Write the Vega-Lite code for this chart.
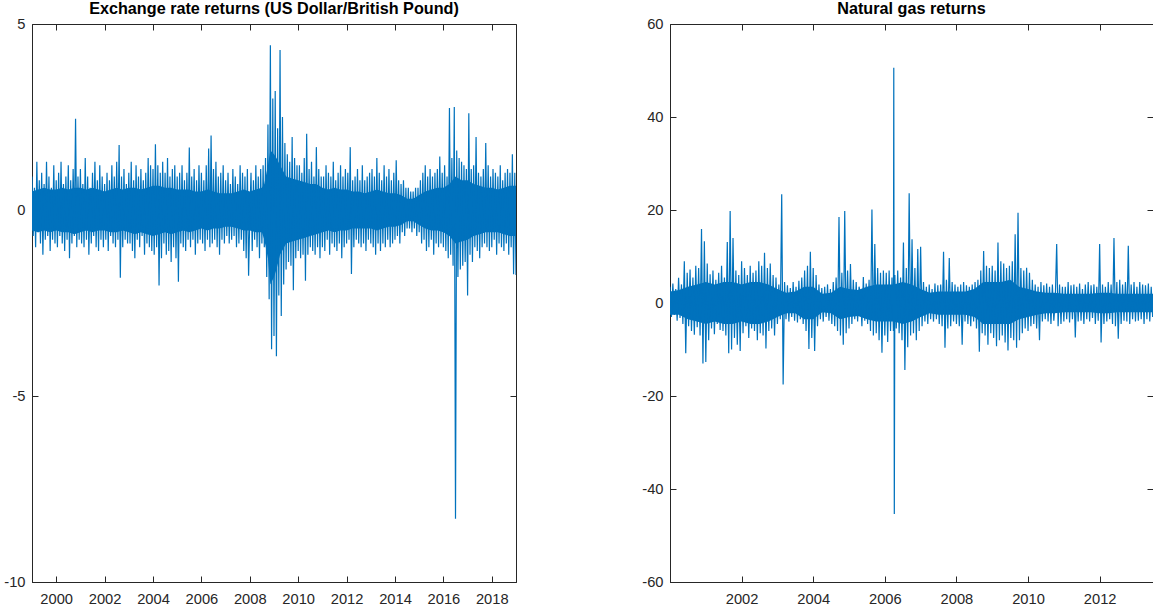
{
"$schema": "https://vega.github.io/schema/vega-lite/v6.json",
"background": "white",
"padding": {"left": 3, "right": 1, "top": 0, "bottom": 0},
"config": {
  "view": {"stroke": "#262626", "strokeWidth": 1},
  "font": "Liberation Sans",
  "axis": {"domainColor": "#262626", "tickColor": "#262626", "labelColor": "#262626", "labelFont": "Liberation Sans", "labelFontSize": 14.7, "grid": false, "tickSize": -6, "title": null, "domainWidth": 1, "tickWidth": 1},
  "axisX": {"labelPadding": 15.5},
  "axisY": {"labelPadding": 13},
  "title": {"font": "Liberation Sans", "fontSize": 16.2, "fontWeight": "bold", "color": "#000000", "offset": -1.5},
  "concat": {"spacing": 124}
},
"datasets": {
"fxb": [
{"t":1999,"lo":-0.55,"hi":0.5},{"t":1999.25,"lo":-0.6,"hi":0.55},{"t":1999.5,"lo":-0.55,"hi":0.6},{"t":1999.75,"lo":-0.6,"hi":0.55},
{"t":2000,"lo":-0.55,"hi":0.55},{"t":2000.25,"lo":-0.6,"hi":0.6},{"t":2000.5,"lo":-0.6,"hi":0.55},{"t":2000.75,"lo":-0.65,"hi":0.6},
{"t":2001,"lo":-0.6,"hi":0.6},{"t":2001.25,"lo":-0.55,"hi":0.55},{"t":2001.5,"lo":-0.6,"hi":0.6},{"t":2001.75,"lo":-0.55,"hi":0.55},
{"t":2002,"lo":-0.55,"hi":0.5},{"t":2002.25,"lo":-0.6,"hi":0.55},{"t":2002.5,"lo":-0.6,"hi":0.6},{"t":2002.75,"lo":-0.55,"hi":0.55},
{"t":2003,"lo":-0.6,"hi":0.6},{"t":2003.25,"lo":-0.65,"hi":0.6},{"t":2003.5,"lo":-0.6,"hi":0.55},{"t":2003.75,"lo":-0.65,"hi":0.6},
{"t":2004,"lo":-0.7,"hi":0.65},{"t":2004.25,"lo":-0.65,"hi":0.65},{"t":2004.5,"lo":-0.6,"hi":0.6},{"t":2004.75,"lo":-0.65,"hi":0.6},
{"t":2005,"lo":-0.6,"hi":0.55},{"t":2005.25,"lo":-0.55,"hi":0.55},{"t":2005.5,"lo":-0.6,"hi":0.55},{"t":2005.75,"lo":-0.55,"hi":0.5},
{"t":2006,"lo":-0.5,"hi":0.5},{"t":2006.25,"lo":-0.55,"hi":0.55},{"t":2006.5,"lo":-0.5,"hi":0.5},{"t":2006.75,"lo":-0.5,"hi":0.45},
{"t":2007,"lo":-0.45,"hi":0.45},{"t":2007.25,"lo":-0.45,"hi":0.45},{"t":2007.5,"lo":-0.5,"hi":0.5},{"t":2007.75,"lo":-0.55,"hi":0.55},
{"t":2008,"lo":-0.55,"hi":0.5},{"t":2008.25,"lo":-0.6,"hi":0.55},{"t":2008.5,"lo":-0.6,"hi":0.6},{"t":2008.6,"lo":-0.8,"hi":0.7},{"t":2008.75,"lo":-1.3,"hi":1.2},
{"t":2008.85,"lo":-2.0,"hi":1.6},{"t":2009,"lo":-1.8,"hi":1.5},{"t":2009.1,"lo":-1.6,"hi":1.4},{"t":2009.25,"lo":-1.2,"hi":1.2},{"t":2009.5,"lo":-0.9,"hi":0.9},{"t":2009.75,"lo":-0.85,"hi":0.85},
{"t":2010,"lo":-0.8,"hi":0.8},{"t":2010.25,"lo":-0.75,"hi":0.75},{"t":2010.5,"lo":-0.7,"hi":0.7},{"t":2010.75,"lo":-0.65,"hi":0.7},
{"t":2011,"lo":-0.6,"hi":0.6},{"t":2011.25,"lo":-0.55,"hi":0.55},{"t":2011.5,"lo":-0.6,"hi":0.6},{"t":2011.75,"lo":-0.55,"hi":0.55},
{"t":2012,"lo":-0.55,"hi":0.55},{"t":2012.25,"lo":-0.5,"hi":0.5},{"t":2012.5,"lo":-0.5,"hi":0.5},{"t":2012.75,"lo":-0.5,"hi":0.45},
{"t":2013,"lo":-0.5,"hi":0.5},{"t":2013.25,"lo":-0.55,"hi":0.55},{"t":2013.5,"lo":-0.5,"hi":0.5},{"t":2013.75,"lo":-0.45,"hi":0.45},
{"t":2014,"lo":-0.45,"hi":0.45},{"t":2014.25,"lo":-0.4,"hi":0.4},{"t":2014.5,"lo":-0.3,"hi":0.3},{"t":2014.75,"lo":-0.3,"hi":0.3},
{"t":2015,"lo":-0.4,"hi":0.4},{"t":2015.25,"lo":-0.5,"hi":0.5},{"t":2015.5,"lo":-0.55,"hi":0.55},{"t":2015.75,"lo":-0.55,"hi":0.6},
{"t":2016,"lo":-0.6,"hi":0.6},{"t":2016.25,"lo":-0.7,"hi":0.7},{"t":2016.5,"lo":-0.9,"hi":0.9},{"t":2016.75,"lo":-0.85,"hi":0.8},
{"t":2017,"lo":-0.8,"hi":0.8},{"t":2017.25,"lo":-0.7,"hi":0.7},{"t":2017.5,"lo":-0.65,"hi":0.65},{"t":2017.75,"lo":-0.6,"hi":0.6},
{"t":2018,"lo":-0.6,"hi":0.6},{"t":2018.25,"lo":-0.6,"hi":0.55},{"t":2018.5,"lo":-0.65,"hi":0.6},{"t":2018.75,"lo":-0.7,"hi":0.65},
{"t":2019,"lo":-0.7,"hi":0.65}
],
"gasb": [
{"t":2000,"lo":-2.5,"hi":2.5},{"t":2000.25,"lo":-2.5,"hi":2.8},{"t":2000.5,"lo":-3.5,"hi":3.5},{"t":2000.75,"lo":-4.0,"hi":4.0},
{"t":2001,"lo":-4.5,"hi":4.5},{"t":2001.25,"lo":-4.0,"hi":4.0},{"t":2001.5,"lo":-4.5,"hi":4.5},{"t":2001.75,"lo":-4.5,"hi":4.5},
{"t":2002,"lo":-4.0,"hi":4.0},{"t":2002.25,"lo":-4.5,"hi":4.5},{"t":2002.5,"lo":-4.5,"hi":4.5},{"t":2002.75,"lo":-4.0,"hi":4.0},
{"t":2003,"lo":-3.0,"hi":3.0},{"t":2003.25,"lo":-2.2,"hi":2.2},{"t":2003.5,"lo":-2.2,"hi":2.5},{"t":2003.75,"lo":-3.5,"hi":3.5},
{"t":2004,"lo":-3.5,"hi":3.5},{"t":2004.25,"lo":-2.0,"hi":2.0},{"t":2004.5,"lo":-2.2,"hi":2.2},{"t":2004.75,"lo":-3.5,"hi":3.5},
{"t":2005,"lo":-3.0,"hi":3.0},{"t":2005.25,"lo":-2.8,"hi":2.8},{"t":2005.5,"lo":-3.5,"hi":3.5},{"t":2005.75,"lo":-4.0,"hi":4.0},
{"t":2006,"lo":-4.0,"hi":4.0},{"t":2006.25,"lo":-4.0,"hi":4.0},{"t":2006.5,"lo":-4.5,"hi":4.5},{"t":2006.75,"lo":-4.0,"hi":4.0},
{"t":2007,"lo":-3.0,"hi":3.0},{"t":2007.25,"lo":-2.2,"hi":2.2},{"t":2007.5,"lo":-2.5,"hi":2.5},{"t":2007.75,"lo":-2.5,"hi":2.5},
{"t":2008,"lo":-2.5,"hi":2.5},{"t":2008.25,"lo":-2.5,"hi":2.5},{"t":2008.5,"lo":-3.0,"hi":3.0},{"t":2008.75,"lo":-4.5,"hi":4.5},
{"t":2009,"lo":-4.5,"hi":4.5},{"t":2009.25,"lo":-4.5,"hi":4.5},{"t":2009.5,"lo":-4.5,"hi":5.0},{"t":2009.75,"lo":-3.5,"hi":3.5},
{"t":2010,"lo":-3.0,"hi":3.0},{"t":2010.25,"lo":-2.5,"hi":2.5},{"t":2010.5,"lo":-2.2,"hi":2.2},{"t":2010.75,"lo":-2.2,"hi":2.2},
{"t":2011,"lo":-2.0,"hi":2.0},{"t":2011.25,"lo":-2.0,"hi":2.0},{"t":2011.5,"lo":-2.0,"hi":2.0},{"t":2011.75,"lo":-2.0,"hi":2.0},
{"t":2012,"lo":-2.2,"hi":2.2},{"t":2012.25,"lo":-2.2,"hi":2.2},{"t":2012.5,"lo":-2.0,"hi":2.0},{"t":2012.75,"lo":-2.0,"hi":2.0},
{"t":2013,"lo":-2.0,"hi":2.0},{"t":2013.25,"lo":-2.0,"hi":2.0},{"t":2013.49,"lo":-2.0,"hi":2.0}
],
"fx": [
{"t":1999,"r":0.9},{"t":1999.05,"r":-0.7},{"t":1999.1,"r":0.6},{"t":1999.15,"r":-1.0},{"t":1999.2,"r":1.3},{"t":1999.25,"r":-0.6},{"t":1999.3,"r":0.8},{"t":1999.35,"r":-0.9},{"t":1999.4,"r":1.0},{"t":1999.45,"r":-1.2},{"t":1999.5,"r":0.7},{"t":1999.55,"r":-0.8},{"t":1999.6,"r":1.3},{"t":1999.65,"r":-0.7},{"t":1999.7,"r":0.9},{"t":1999.75,"r":-1.1},{"t":1999.8,"r":0.6},{"t":1999.85,"r":-0.8},{"t":1999.9,"r":1.2},{"t":1999.95,"r":-0.9},
{"t":2000,"r":0.8},{"t":2000.05,"r":-1.0},{"t":2000.1,"r":1.0},{"t":2000.15,"r":-0.7},{"t":2000.2,"r":1.3},{"t":2000.25,"r":-0.9},{"t":2000.3,"r":0.7},{"t":2000.35,"r":-1.1},{"t":2000.4,"r":0.9},{"t":2000.45,"r":-0.8},{"t":2000.5,"r":1.2},{"t":2000.55,"r":-1.3},{"t":2000.6,"r":0.8},{"t":2000.65,"r":-0.9},{"t":2000.7,"r":1.1},{"t":2000.75,"r":-0.7},{"t":2000.8,"r":2.45},{"t":2000.85,"r":-1.0},{"t":2000.9,"r":0.9},{"t":2000.95,"r":-0.8},
{"t":2001,"r":1.1},{"t":2001.05,"r":-0.9},{"t":2001.1,"r":0.7},{"t":2001.15,"r":-1.0},{"t":2001.2,"r":1.4},{"t":2001.25,"r":-0.8},{"t":2001.3,"r":0.9},{"t":2001.35,"r":-1.2},{"t":2001.4,"r":0.6},{"t":2001.45,"r":-0.9},{"t":2001.5,"r":1.0},{"t":2001.55,"r":-0.7},{"t":2001.6,"r":1.3},{"t":2001.65,"r":-1.0},{"t":2001.7,"r":0.8},{"t":2001.75,"r":-1.1},{"t":2001.8,"r":1.2},{"t":2001.85,"r":-0.8},{"t":2001.9,"r":0.9},{"t":2001.95,"r":-1.0},
{"t":2002,"r":0.7},{"t":2002.05,"r":-0.8},{"t":2002.1,"r":1.0},{"t":2002.15,"r":-1.1},{"t":2002.2,"r":0.8},{"t":2002.25,"r":-0.7},{"t":2002.3,"r":1.2},{"t":2002.35,"r":-0.9},{"t":2002.4,"r":0.9},{"t":2002.45,"r":-1.0},{"t":2002.5,"r":1.3},{"t":2002.55,"r":-0.8},{"t":2002.6,"r":1.75},{"t":2002.65,"r":-1.82},{"t":2002.7,"r":0.9},{"t":2002.75,"r":-1.0},{"t":2002.8,"r":1.1},{"t":2002.85,"r":-0.8},{"t":2002.9,"r":0.7},{"t":2002.95,"r":-0.9},
{"t":2003,"r":1.0},{"t":2003.05,"r":-0.9},{"t":2003.1,"r":1.3},{"t":2003.15,"r":-1.1},{"t":2003.2,"r":0.8},{"t":2003.25,"r":-1.3},{"t":2003.3,"r":1.2},{"t":2003.35,"r":-0.8},{"t":2003.4,"r":0.9},{"t":2003.45,"r":-1.0},{"t":2003.5,"r":1.1},{"t":2003.55,"r":-0.7},{"t":2003.6,"r":0.8},{"t":2003.65,"r":-1.2},{"t":2003.7,"r":1.0},{"t":2003.75,"r":-0.9},{"t":2003.8,"r":1.4},{"t":2003.85,"r":-1.0},{"t":2003.9,"r":1.2},{"t":2003.95,"r":-1.1},
{"t":2004,"r":1.1},{"t":2004.05,"r":-1.2},{"t":2004.1,"r":1.77},{"t":2004.15,"r":-1.0},{"t":2004.2,"r":1.2},{"t":2004.25,"r":-2.03},{"t":2004.3,"r":1.0},{"t":2004.35,"r":-1.3},{"t":2004.4,"r":1.3},{"t":2004.45,"r":-0.9},{"t":2004.5,"r":1.0},{"t":2004.55,"r":-1.2},{"t":2004.6,"r":1.4},{"t":2004.65,"r":-1.1},{"t":2004.7,"r":0.9},{"t":2004.75,"r":-1.4},{"t":2004.8,"r":1.1},{"t":2004.85,"r":-1.0},{"t":2004.9,"r":1.2},{"t":2004.95,"r":-1.3},
{"t":2005,"r":0.9},{"t":2005.05,"r":-1.93},{"t":2005.1,"r":1.0},{"t":2005.15,"r":-0.9},{"t":2005.2,"r":1.2},{"t":2005.25,"r":-1.0},{"t":2005.3,"r":0.8},{"t":2005.35,"r":-1.1},{"t":2005.4,"r":1.0},{"t":2005.45,"r":-0.8},{"t":2005.5,"r":1.68},{"t":2005.55,"r":-1.0},{"t":2005.6,"r":0.9},{"t":2005.65,"r":-0.8},{"t":2005.7,"r":1.1},{"t":2005.75,"r":-1.2},{"t":2005.8,"r":0.8},{"t":2005.85,"r":-0.9},{"t":2005.9,"r":1.2},{"t":2005.95,"r":-0.8},
{"t":2006,"r":1.0},{"t":2006.05,"r":-0.9},{"t":2006.1,"r":0.8},{"t":2006.15,"r":-1.1},{"t":2006.2,"r":1.2},{"t":2006.25,"r":-0.8},{"t":2006.3,"r":1.65},{"t":2006.35,"r":-1.0},{"t":2006.4,"r":2.0},{"t":2006.45,"r":-0.9},{"t":2006.5,"r":1.1},{"t":2006.55,"r":-0.8},{"t":2006.6,"r":1.3},{"t":2006.65,"r":-1.0},{"t":2006.7,"r":0.9},{"t":2006.75,"r":-1.2},{"t":2006.8,"r":1.0},{"t":2006.85,"r":-0.8},{"t":2006.9,"r":1.2},{"t":2006.95,"r":-0.9},
{"t":2007,"r":0.8},{"t":2007.05,"r":-0.7},{"t":2007.1,"r":1.0},{"t":2007.15,"r":-0.9},{"t":2007.2,"r":0.7},{"t":2007.25,"r":-0.8},{"t":2007.3,"r":1.1},{"t":2007.35,"r":-0.7},{"t":2007.4,"r":0.9},{"t":2007.45,"r":-1.0},{"t":2007.5,"r":0.7},{"t":2007.55,"r":-0.9},{"t":2007.6,"r":1.2},{"t":2007.65,"r":-0.8},{"t":2007.7,"r":1.0},{"t":2007.75,"r":-1.1},{"t":2007.8,"r":0.9},{"t":2007.85,"r":-1.3},{"t":2007.9,"r":1.1},{"t":2007.95,"r":-1.77},
{"t":2008,"r":-0.2},{"t":2008.05,"r":1.0},{"t":2008.1,"r":-1.1},{"t":2008.15,"r":0.8},{"t":2008.2,"r":-0.8},{"t":2008.25,"r":1.2},{"t":2008.3,"r":-1.0},{"t":2008.35,"r":0.9},{"t":2008.4,"r":-1.3},{"t":2008.45,"r":1.1},{"t":2008.5,"r":-0.9},{"t":2008.55,"r":1.2},{"t":2008.6,"r":-1.0},{"t":2008.65,"r":1.4},{"t":2008.7,"r":-1.8},{"t":2008.75,"r":2.3},{"t":2008.8,"r":-2.4},{"t":2008.85,"r":4.43},{"t":2008.9,"r":-3.74},{"t":2008.95,"r":3.0},
{"t":2009,"r":-3.39},{"t":2009.05,"r":3.2},{"t":2009.1,"r":-3.93},{"t":2009.15,"r":2.2},{"t":2009.2,"r":-2.3},{"t":2009.25,"r":4.3},{"t":2009.3,"r":-2.85},{"t":2009.35,"r":2.5},{"t":2009.4,"r":-2.0},{"t":2009.45,"r":1.8},{"t":2009.5,"r":-1.6},{"t":2009.55,"r":1.5},{"t":2009.6,"r":-1.4},{"t":2009.65,"r":1.3},{"t":2009.7,"r":-1.5},{"t":2009.75,"r":1.96},{"t":2009.8,"r":-2.16},{"t":2009.85,"r":1.4},{"t":2009.9,"r":-1.3},{"t":2009.95,"r":1.2},
{"t":2010,"r":-1.1},{"t":2010.05,"r":1.2},{"t":2010.1,"r":-1.3},{"t":2010.15,"r":1.0},{"t":2010.2,"r":-1.2},{"t":2010.25,"r":1.4},{"t":2010.3,"r":-1.9},{"t":2010.35,"r":2.05},{"t":2010.4,"r":-1.2},{"t":2010.45,"r":1.1},{"t":2010.5,"r":-1.0},{"t":2010.55,"r":1.3},{"t":2010.6,"r":-1.1},{"t":2010.65,"r":0.9},{"t":2010.7,"r":-1.2},{"t":2010.75,"r":1.69},{"t":2010.8,"r":-1.0},{"t":2010.85,"r":1.1},{"t":2010.9,"r":-1.3},{"t":2010.95,"r":0.9},
{"t":2011,"r":-1.0},{"t":2011.05,"r":0.9},{"t":2011.1,"r":-1.1},{"t":2011.15,"r":1.2},{"t":2011.2,"r":-0.8},{"t":2011.25,"r":1.0},{"t":2011.3,"r":-1.2},{"t":2011.35,"r":0.9},{"t":2011.4,"r":-0.9},{"t":2011.45,"r":1.3},{"t":2011.5,"r":-1.0},{"t":2011.55,"r":0.8},{"t":2011.6,"r":-1.1},{"t":2011.65,"r":1.0},{"t":2011.7,"r":-0.9},{"t":2011.75,"r":1.2},{"t":2011.8,"r":-1.3},{"t":2011.85,"r":0.9},{"t":2011.9,"r":-1.0},{"t":2011.95,"r":1.1},
{"t":2012,"r":-0.9},{"t":2012.05,"r":1.0},{"t":2012.1,"r":-0.8},{"t":2012.15,"r":1.69},{"t":2012.2,"r":-1.72},{"t":2012.25,"r":0.8},{"t":2012.3,"r":-1.0},{"t":2012.35,"r":0.9},{"t":2012.4,"r":-0.8},{"t":2012.45,"r":1.1},{"t":2012.5,"r":-0.9},{"t":2012.55,"r":0.8},{"t":2012.6,"r":-1.0},{"t":2012.65,"r":1.2},{"t":2012.7,"r":-0.9},{"t":2012.75,"r":0.8},{"t":2012.8,"r":-1.1},{"t":2012.85,"r":0.9},{"t":2012.9,"r":-0.8},{"t":2012.95,"r":1.0},
{"t":2013,"r":-0.9},{"t":2013.05,"r":1.1},{"t":2013.1,"r":-1.0},{"t":2013.15,"r":0.9},{"t":2013.2,"r":-1.2},{"t":2013.25,"r":1.4},{"t":2013.3,"r":-0.9},{"t":2013.35,"r":1.0},{"t":2013.4,"r":-1.1},{"t":2013.45,"r":0.8},{"t":2013.5,"r":-0.9},{"t":2013.55,"r":1.2},{"t":2013.6,"r":-1.0},{"t":2013.65,"r":0.9},{"t":2013.7,"r":-0.8},{"t":2013.75,"r":1.1},{"t":2013.8,"r":-1.0},{"t":2013.85,"r":0.8},{"t":2013.9,"r":-0.9},{"t":2013.95,"r":1.0},
{"t":2014,"r":-0.8},{"t":2014.05,"r":1.34},{"t":2014.1,"r":-0.7},{"t":2014.15,"r":0.8},{"t":2014.2,"r":-0.9},{"t":2014.25,"r":0.7},{"t":2014.3,"r":-0.6},{"t":2014.35,"r":0.8},{"t":2014.4,"r":-0.7},{"t":2014.45,"r":0.6},{"t":2014.5,"r":-0.5},{"t":2014.55,"r":0.6},{"t":2014.6,"r":-0.5},{"t":2014.65,"r":0.5},{"t":2014.7,"r":-0.6},{"t":2014.75,"r":0.5},{"t":2014.8,"r":-0.5},{"t":2014.85,"r":0.6},{"t":2014.9,"r":-0.7},{"t":2014.95,"r":0.6},
{"t":2015,"r":-0.6},{"t":2015.05,"r":0.8},{"t":2015.1,"r":-0.9},{"t":2015.15,"r":1.0},{"t":2015.2,"r":-0.8},{"t":2015.25,"r":1.2},{"t":2015.3,"r":-1.1},{"t":2015.35,"r":0.9},{"t":2015.4,"r":-1.0},{"t":2015.45,"r":1.1},{"t":2015.5,"r":-0.8},{"t":2015.55,"r":0.9},{"t":2015.6,"r":-1.2},{"t":2015.65,"r":1.0},{"t":2015.7,"r":-0.9},{"t":2015.75,"r":1.1},{"t":2015.8,"r":-1.0},{"t":2015.85,"r":1.44},{"t":2015.9,"r":-0.9},{"t":2015.95,"r":1.0},
{"t":2016,"r":-1.0},{"t":2016.05,"r":1.2},{"t":2016.1,"r":-1.1},{"t":2016.15,"r":0.9},{"t":2016.2,"r":-1.3},{"t":2016.25,"r":2.74},{"t":2016.3,"r":-1.2},{"t":2016.35,"r":1.4},{"t":2016.4,"r":-1.5},{"t":2016.45,"r":2.77},{"t":2016.5,"r":-8.3},{"t":2016.55,"r":1.6},{"t":2016.6,"r":-1.8},{"t":2016.65,"r":1.4},{"t":2016.7,"r":-1.6},{"t":2016.75,"r":1.3},{"t":2016.8,"r":-1.5},{"t":2016.85,"r":1.2},{"t":2016.9,"r":-1.4},{"t":2016.95,"r":1.1},
{"t":2017,"r":-2.3},{"t":2017.05,"r":2.6},{"t":2017.1,"r":-1.2},{"t":2017.15,"r":1.1},{"t":2017.2,"r":-1.4},{"t":2017.25,"r":1.2},{"t":2017.3,"r":-1.0},{"t":2017.35,"r":1.96},{"t":2017.4,"r":-1.1},{"t":2017.45,"r":1.0},{"t":2017.5,"r":-1.3},{"t":2017.55,"r":0.9},{"t":2017.6,"r":-1.0},{"t":2017.65,"r":1.1},{"t":2017.7,"r":-0.9},{"t":2017.75,"r":1.8},{"t":2017.8,"r":-1.0},{"t":2017.85,"r":1.2},{"t":2017.9,"r":-1.1},{"t":2017.95,"r":0.9},
{"t":2018,"r":-1.0},{"t":2018.05,"r":1.1},{"t":2018.1,"r":-0.8},{"t":2018.15,"r":1.0},{"t":2018.2,"r":-1.2},{"t":2018.25,"r":0.9},{"t":2018.3,"r":-0.9},{"t":2018.35,"r":1.2},{"t":2018.4,"r":-1.0},{"t":2018.45,"r":0.8},{"t":2018.5,"r":-1.1},{"t":2018.55,"r":1.0},{"t":2018.6,"r":-0.9},{"t":2018.65,"r":1.1},{"t":2018.7,"r":-1.2},{"t":2018.75,"r":1.0},{"t":2018.8,"r":-1.0},{"t":2018.85,"r":1.5},{"t":2018.9,"r":-1.73},{"t":2018.95,"r":1.0},
{"t":2019,"r":-1.75}
],
"gas": [
{"t":2000,"r":3.5},{"t":2000.04,"r":-3.0},{"t":2000.08,"r":4.2},{"t":2000.12,"r":-2.6},{"t":2000.16,"r":3.0},{"t":2000.2,"r":-3.8},{"t":2000.24,"r":5.4},{"t":2000.28,"r":-3.2},{"t":2000.32,"r":4.0},{"t":2000.36,"r":-4.5},{"t":2000.4,"r":9.0},{"t":2000.44,"r":-10.8},{"t":2000.48,"r":6.5},{"t":2000.52,"r":-5.0},{"t":2000.56,"r":7.2},{"t":2000.6,"r":-6.0},{"t":2000.64,"r":5.5},{"t":2000.68,"r":-6.8},{"t":2000.72,"r":8.0},{"t":2000.76,"r":-5.2},{"t":2000.8,"r":7.5},{"t":2000.84,"r":-7.0},{"t":2000.88,"r":15.9},{"t":2000.92,"r":-13.0},{"t":2000.96,"r":13.3},
{"t":2001,"r":-12.7},{"t":2001.04,"r":8.5},{"t":2001.08,"r":-8.0},{"t":2001.12,"r":6.2},{"t":2001.16,"r":-5.5},{"t":2001.2,"r":7.0},{"t":2001.24,"r":-6.7},{"t":2001.28,"r":5.0},{"t":2001.32,"r":-4.5},{"t":2001.36,"r":6.5},{"t":2001.4,"r":-5.8},{"t":2001.44,"r":8.0},{"t":2001.48,"r":-6.0},{"t":2001.52,"r":5.5},{"t":2001.56,"r":-7.0},{"t":2001.6,"r":13.1},{"t":2001.64,"r":-10.8},{"t":2001.68,"r":19.8},{"t":2001.72,"r":-10.0},{"t":2001.76,"r":14.0},{"t":2001.8,"r":-7.5},{"t":2001.84,"r":7.0},{"t":2001.88,"r":-9.0},{"t":2001.92,"r":6.0},{"t":2001.96,"r":-10.3},
{"t":2002,"r":9.0},{"t":2002.04,"r":-6.5},{"t":2002.08,"r":7.5},{"t":2002.12,"r":-5.0},{"t":2002.16,"r":6.0},{"t":2002.2,"r":-7.5},{"t":2002.24,"r":8.0},{"t":2002.28,"r":-5.5},{"t":2002.32,"r":6.5},{"t":2002.36,"r":-6.0},{"t":2002.4,"r":7.0},{"t":2002.44,"r":-8.0},{"t":2002.48,"r":9.0},{"t":2002.52,"r":-6.5},{"t":2002.56,"r":8.0},{"t":2002.6,"r":-7.0},{"t":2002.64,"r":10.8},{"t":2002.68,"r":-9.8},{"t":2002.72,"r":7.5},{"t":2002.76,"r":-6.0},{"t":2002.8,"r":8.5},{"t":2002.84,"r":-5.5},{"t":2002.88,"r":6.0},{"t":2002.92,"r":-7.0},{"t":2002.96,"r":5.5},
{"t":2003,"r":-4.5},{"t":2003.04,"r":4.0},{"t":2003.08,"r":-3.5},{"t":2003.12,"r":23.4},{"t":2003.16,"r":-17.5},{"t":2003.2,"r":4.5},{"t":2003.24,"r":-3.5},{"t":2003.28,"r":3.8},{"t":2003.32,"r":-4.0},{"t":2003.36,"r":3.2},{"t":2003.4,"r":-3.0},{"t":2003.44,"r":4.5},{"t":2003.48,"r":-3.8},{"t":2003.52,"r":3.5},{"t":2003.56,"r":-4.2},{"t":2003.6,"r":4.8},{"t":2003.64,"r":-3.5},{"t":2003.68,"r":5.5},{"t":2003.72,"r":-4.5},{"t":2003.76,"r":7.0},{"t":2003.8,"r":-6.0},{"t":2003.84,"r":8.0},{"t":2003.88,"r":-9.9},{"t":2003.92,"r":11.0},{"t":2003.96,"r":-7.5},
{"t":2004,"r":7.5},{"t":2004.04,"r":-10.3},{"t":2004.08,"r":6.0},{"t":2004.12,"r":-5.0},{"t":2004.16,"r":4.0},{"t":2004.2,"r":-3.5},{"t":2004.24,"r":3.2},{"t":2004.28,"r":-4.0},{"t":2004.32,"r":3.5},{"t":2004.36,"r":-3.0},{"t":2004.4,"r":4.0},{"t":2004.44,"r":-3.8},{"t":2004.48,"r":3.0},{"t":2004.52,"r":-4.5},{"t":2004.56,"r":4.5},{"t":2004.6,"r":-5.0},{"t":2004.64,"r":5.5},{"t":2004.68,"r":-6.0},{"t":2004.72,"r":18.5},{"t":2004.76,"r":-7.0},{"t":2004.8,"r":6.5},{"t":2004.84,"r":-9.0},{"t":2004.88,"r":19.8},{"t":2004.92,"r":-6.5},{"t":2004.96,"r":7.0},
{"t":2005,"r":-5.5},{"t":2005.04,"r":8.4},{"t":2005.08,"r":-4.5},{"t":2005.12,"r":5.0},{"t":2005.16,"r":-3.5},{"t":2005.2,"r":4.5},{"t":2005.24,"r":-4.0},{"t":2005.28,"r":3.5},{"t":2005.32,"r":2.0},{"t":2005.36,"r":-5.0},{"t":2005.4,"r":5.6},{"t":2005.44,"r":-3.8},{"t":2005.48,"r":4.2},{"t":2005.52,"r":-4.5},{"t":2005.56,"r":5.0},{"t":2005.6,"r":-6.0},{"t":2005.64,"r":20.1},{"t":2005.68,"r":-7.0},{"t":2005.72,"r":12.7},{"t":2005.76,"r":-6.5},{"t":2005.8,"r":7.5},{"t":2005.84,"r":-8.0},{"t":2005.88,"r":6.5},{"t":2005.92,"r":-10.7},{"t":2005.96,"r":7.0},
{"t":2006,"r":-7.0},{"t":2006.04,"r":6.5},{"t":2006.08,"r":-8.4},{"t":2006.12,"r":7.0},{"t":2006.16,"r":-6.0},{"t":2006.2,"r":5.5},{"t":2006.24,"r":-6.0},{"t":2006.25,"r":50.6},{"t":2006.265,"r":-45.4},{"t":2006.28,"r":6.0},{"t":2006.32,"r":-5.5},{"t":2006.36,"r":7.0},{"t":2006.4,"r":-6.5},{"t":2006.44,"r":5.5},{"t":2006.48,"r":-8.0},{"t":2006.52,"r":13.0},{"t":2006.56,"r":-14.4},{"t":2006.6,"r":7.5},{"t":2006.64,"r":-9.5},{"t":2006.68,"r":23.6},{"t":2006.72,"r":-7.0},{"t":2006.76,"r":13.7},{"t":2006.8,"r":-6.5},{"t":2006.84,"r":7.5},{"t":2006.88,"r":-8.0},{"t":2006.92,"r":11.6},{"t":2006.96,"r":-6.0},
{"t":2007,"r":12.1},{"t":2007.04,"r":-5.0},{"t":2007.08,"r":4.5},{"t":2007.12,"r":-4.0},{"t":2007.16,"r":3.5},{"t":2007.2,"r":-4.5},{"t":2007.24,"r":4.0},{"t":2007.28,"r":-3.5},{"t":2007.32,"r":3.0},{"t":2007.36,"r":-4.0},{"t":2007.4,"r":4.2},{"t":2007.44,"r":-3.5},{"t":2007.48,"r":3.8},{"t":2007.52,"r":-4.5},{"t":2007.56,"r":4.0},{"t":2007.6,"r":-5.0},{"t":2007.64,"r":11.0},{"t":2007.68,"r":-9.6},{"t":2007.72,"r":5.0},{"t":2007.76,"r":-5.5},{"t":2007.8,"r":9.7},{"t":2007.84,"r":-5.0},{"t":2007.88,"r":4.5},{"t":2007.92,"r":-4.0},{"t":2007.96,"r":4.0},
{"t":2008,"r":-4.5},{"t":2008.04,"r":3.5},{"t":2008.08,"r":-5.0},{"t":2008.12,"r":4.0},{"t":2008.16,"r":-9.0},{"t":2008.2,"r":4.5},{"t":2008.24,"r":-4.0},{"t":2008.28,"r":3.8},{"t":2008.32,"r":-4.5},{"t":2008.36,"r":3.5},{"t":2008.4,"r":-5.0},{"t":2008.44,"r":4.0},{"t":2008.48,"r":-4.0},{"t":2008.52,"r":4.5},{"t":2008.56,"r":-5.5},{"t":2008.6,"r":5.0},{"t":2008.64,"r":-10.5},{"t":2008.68,"r":7.0},{"t":2008.72,"r":-6.5},{"t":2008.76,"r":11.2},{"t":2008.8,"r":-7.0},{"t":2008.84,"r":8.0},{"t":2008.88,"r":-9.0},{"t":2008.92,"r":7.5},{"t":2008.96,"r":-6.5},
{"t":2009,"r":8.0},{"t":2009.04,"r":-7.5},{"t":2009.08,"r":7.0},{"t":2009.12,"r":-9.3},{"t":2009.16,"r":13.0},{"t":2009.2,"r":-8.0},{"t":2009.24,"r":9.0},{"t":2009.28,"r":-7.0},{"t":2009.32,"r":8.5},{"t":2009.36,"r":-8.5},{"t":2009.4,"r":7.5},{"t":2009.44,"r":-10.2},{"t":2009.48,"r":8.0},{"t":2009.52,"r":-7.5},{"t":2009.56,"r":9.0},{"t":2009.6,"r":-8.0},{"t":2009.64,"r":14.8},{"t":2009.68,"r":-9.6},{"t":2009.72,"r":19.4},{"t":2009.76,"r":-8.0},{"t":2009.8,"r":7.5},{"t":2009.84,"r":-6.5},{"t":2009.88,"r":7.0},{"t":2009.92,"r":-5.5},{"t":2009.96,"r":7.6},
{"t":2010,"r":-6.0},{"t":2010.04,"r":6.5},{"t":2010.08,"r":-5.0},{"t":2010.12,"r":5.0},{"t":2010.16,"r":-4.5},{"t":2010.2,"r":4.0},{"t":2010.24,"r":-5.5},{"t":2010.28,"r":3.5},{"t":2010.32,"r":-8.0},{"t":2010.36,"r":4.5},{"t":2010.4,"r":-4.0},{"t":2010.44,"r":3.8},{"t":2010.48,"r":-3.5},{"t":2010.52,"r":4.2},{"t":2010.56,"r":-4.0},{"t":2010.6,"r":3.5},{"t":2010.64,"r":-4.5},{"t":2010.68,"r":4.0},{"t":2010.72,"r":-3.8},{"t":2010.76,"r":0.5},{"t":2010.8,"r":12.7},{"t":2010.84,"r":-5.0},{"t":2010.88,"r":4.0},{"t":2010.92,"r":-4.5},{"t":2010.96,"r":3.5},
{"t":2011,"r":-4.0},{"t":2011.04,"r":3.5},{"t":2011.08,"r":-3.5},{"t":2011.12,"r":4.5},{"t":2011.16,"r":-4.2},{"t":2011.2,"r":3.8},{"t":2011.24,"r":-3.5},{"t":2011.28,"r":4.0},{"t":2011.32,"r":-7.4},{"t":2011.36,"r":3.5},{"t":2011.4,"r":-4.0},{"t":2011.44,"r":4.2},{"t":2011.48,"r":-3.8},{"t":2011.52,"r":3.0},{"t":2011.56,"r":-4.5},{"t":2011.6,"r":4.0},{"t":2011.64,"r":-3.5},{"t":2011.68,"r":4.5},{"t":2011.72,"r":-4.0},{"t":2011.76,"r":3.8},{"t":2011.8,"r":-3.2},{"t":2011.84,"r":4.0},{"t":2011.88,"r":-4.5},{"t":2011.92,"r":3.5},{"t":2011.96,"r":-3.8},
{"t":2012,"r":12.7},{"t":2012.04,"r":-8.5},{"t":2012.08,"r":4.0},{"t":2012.12,"r":-4.5},{"t":2012.16,"r":3.5},{"t":2012.2,"r":-4.0},{"t":2012.24,"r":4.5},{"t":2012.28,"r":-3.5},{"t":2012.32,"r":4.0},{"t":2012.36,"r":-4.5},{"t":2012.4,"r":14.0},{"t":2012.44,"r":-5.0},{"t":2012.48,"r":4.5},{"t":2012.52,"r":-7.7},{"t":2012.56,"r":5.0},{"t":2012.6,"r":-4.5},{"t":2012.64,"r":4.0},{"t":2012.68,"r":-3.8},{"t":2012.72,"r":4.5},{"t":2012.76,"r":-4.0},{"t":2012.8,"r":12.3},{"t":2012.84,"r":-4.5},{"t":2012.88,"r":4.0},{"t":2012.92,"r":-3.5},{"t":2012.96,"r":4.5},
{"t":2013,"r":-4.0},{"t":2013.04,"r":3.5},{"t":2013.08,"r":-3.8},{"t":2013.12,"r":4.5},{"t":2013.16,"r":-3.5},{"t":2013.2,"r":4.0},{"t":2013.24,"r":-4.5},{"t":2013.28,"r":3.8},{"t":2013.32,"r":-3.5},{"t":2013.36,"r":4.2},{"t":2013.4,"r":-4.0},{"t":2013.44,"r":3.5},{"t":2013.48,"r":-3.0}
]
},
"hconcat": [
{
  "width": 484, "height": 558,
  "title": "Exchange rate returns (US Dollar/British Pound)",
  "layer": [
    {
      "data": {"name": "fxb"},
      "mark": {"type": "area", "color": "#0072BD", "clip": true},
      "encoding": {
        "x": {"field": "t", "type": "quantitative", "scale": {"domain": [1999, 2019], "nice": false, "zero": false}, "axis": {"orient": "top", "labels": false, "domain": false, "values": [2000,2002,2004,2006,2008,2010,2012,2014,2016,2018]}},
        "y": {"field": "lo", "type": "quantitative", "scale": {"domain": [-10, 5], "nice": false, "zero": false}, "axis": {"orient": "right", "labels": false, "domain": false, "values": [-10,-5,0,5]}},
        "y2": {"field": "hi"}
      }
    },
    {
      "data": {"name": "fx"},
      "mark": {"type": "line", "color": "#0072BD", "strokeWidth": 1.2, "clip": true},
      "encoding": {
        "x": {"field": "t", "type": "quantitative", "scale": {"domain": [1999, 2019], "nice": false, "zero": false}, "axis": {"orient": "bottom", "values": [2000,2002,2004,2006,2008,2010,2012,2014,2016,2018], "format": "d"}},
        "y": {"field": "r", "type": "quantitative", "scale": {"domain": [-10, 5], "nice": false, "zero": false}, "axis": {"orient": "left", "values": [-10,-5,0,5], "labelExpr": "'' + datum.value"}}
      }
    }
  ],
  "resolve": {"axis": {"x": "independent", "y": "independent"}}
},
{
  "width": 483, "height": 558,
  "title": "Natural gas returns",
  "layer": [
    {
      "data": {"name": "gasb"},
      "mark": {"type": "area", "color": "#0072BD", "clip": true},
      "encoding": {
        "x": {"field": "t", "type": "quantitative", "scale": {"domain": [2000, 2013.49], "nice": false, "zero": false}, "axis": {"orient": "top", "labels": false, "domain": false, "values": [2002,2004,2006,2008,2010,2012]}},
        "y": {"field": "lo", "type": "quantitative", "scale": {"domain": [-60, 60], "nice": false, "zero": false}, "axis": {"orient": "right", "labels": false, "domain": false, "values": [-60,-40,-20,0,20,40,60]}},
        "y2": {"field": "hi"}
      }
    },
    {
      "data": {"name": "gas"},
      "mark": {"type": "line", "color": "#0072BD", "strokeWidth": 1.2, "clip": true},
      "encoding": {
        "x": {"field": "t", "type": "quantitative", "scale": {"domain": [2000, 2013.49], "nice": false, "zero": false}, "axis": {"orient": "bottom", "values": [2002,2004,2006,2008,2010,2012], "format": "d"}},
        "y": {"field": "r", "type": "quantitative", "scale": {"domain": [-60, 60], "nice": false, "zero": false}, "axis": {"orient": "left", "values": [-60,-40,-20,0,20,40,60], "labelExpr": "'' + datum.value"}}
      }
    }
  ],
  "resolve": {"axis": {"x": "independent", "y": "independent"}}
}
]
}
